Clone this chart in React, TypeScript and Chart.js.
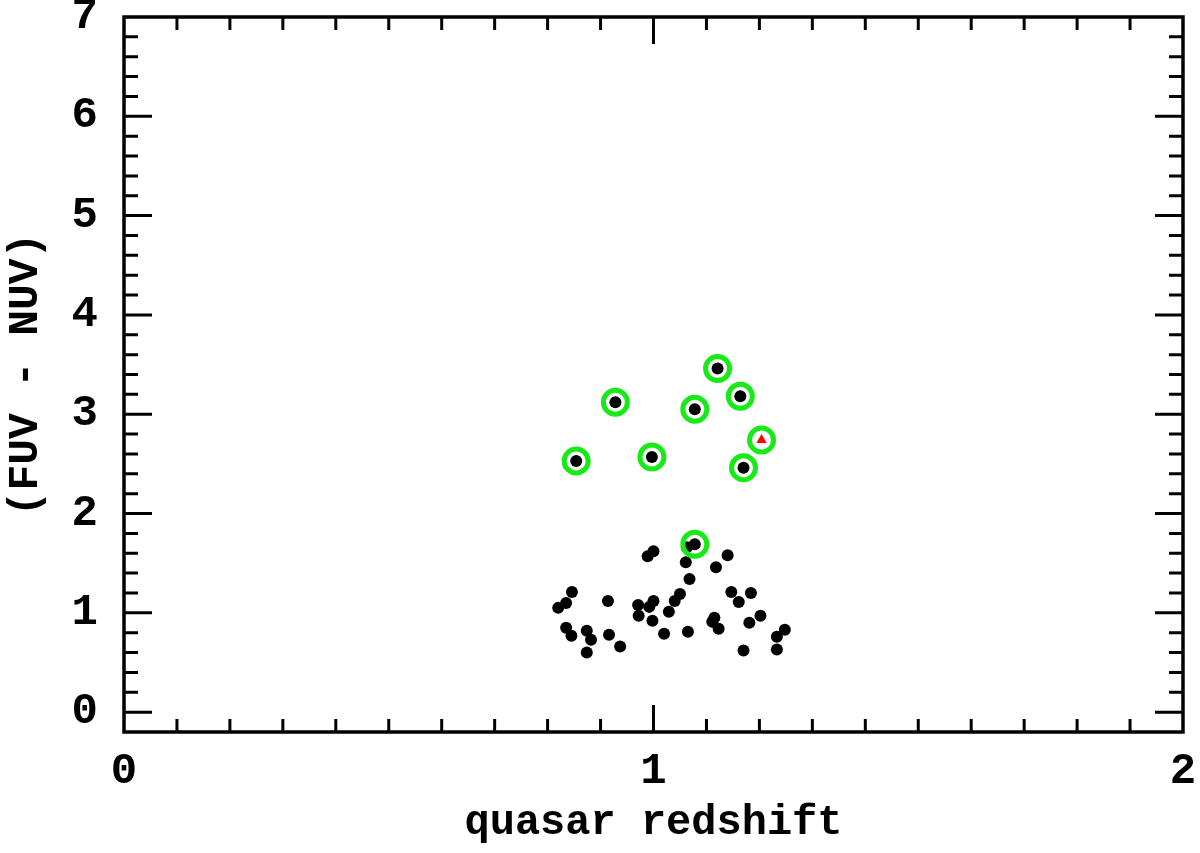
import React, { useEffect, useRef } from "react";
import { Chart, registerables } from "chart.js";

Chart.register(...registerables);

// Plain black points (quasar redshift, FUV - NUV)
const BLACK_X = [
  1.063, 1.0, 0.989, 1.14, 1.061, 1.118, 1.068, 0.846, 1.147, 1.184,
  0.835, 0.82, 0.914, 0.971, 1.0, 0.992, 1.05, 1.04, 1.161, 0.972,
  1.029, 0.998, 1.202, 1.115, 1.111, 1.181, 1.123, 0.835, 0.845, 0.874,
  0.882, 0.916, 0.937, 0.874, 1.02, 1.065, 1.248, 1.233, 1.17, 1.233,
];
const BLACK_Y = [
  1.66, 1.62, 1.57, 1.58, 1.51, 1.46, 1.34, 1.21, 1.21, 1.2,
  1.1, 1.05, 1.12, 1.08, 1.12, 1.06, 1.19, 1.12, 1.11, 0.97,
  1.01, 0.92, 0.97, 0.95, 0.91, 0.9, 0.84, 0.85, 0.77, 0.82,
  0.73, 0.78, 0.66, 0.6, 0.79, 0.81, 0.83, 0.76, 0.62, 0.63,
];

// Circled (green ring) objects with black dot centres
const RING_DOT_X = [0.854, 0.928, 0.997, 1.078, 1.121, 1.164, 1.17, 1.078];
const RING_DOT_Y = [2.53, 3.12, 2.57, 3.05, 3.46, 3.18, 2.46, 1.69];

// Circled object with red triangle centre
const TRI_X = [1.204];
const TRI_Y = [2.74];

const X_TICKS = [0, 1, 2];
const Y_TICKS = [0, 1, 2, 3, 4, 5, 6, 7];

const GREEN = "#17ea17";
const FONT = "'Liberation Mono', 'DejaVu Sans Mono', monospace";

const pts = (xs: number[], ys: number[]) => xs.map((x, i) => ({ x, y: ys[i] }));

const framePlugin = {
  id: "frameTicks",
  afterDraw(chart: any) {
    const { ctx, chartArea } = chart;
    const xs = chart.scales.x;
    const ys = chart.scales.y;
    const { left, right, top, bottom } = chartArea;
    ctx.save();
    ctx.strokeStyle = "#000";
    ctx.lineWidth = 3;
    ctx.lineCap = "butt";
    ctx.beginPath();
    for (let k = 1; k < 20; k++) {
      const v = k / 10;
      const px = xs.getPixelForValue(v);
      const len = k % 10 === 0 ? 27 : 13;
      ctx.moveTo(px, bottom);
      ctx.lineTo(px, bottom - len);
      ctx.moveTo(px, top);
      ctx.lineTo(px, top + len);
    }
    for (let k = 0; k < 35; k++) {
      const v = k / 5;
      const py = ys.getPixelForValue(v);
      const len = k % 5 === 0 ? 28 : 14;
      ctx.moveTo(left, py);
      ctx.lineTo(left + len, py);
      ctx.moveTo(right, py);
      ctx.lineTo(right - len, py);
    }
    ctx.stroke();
    ctx.lineWidth = 3.5;
    ctx.strokeRect(left, top, right - left, bottom - top);
    ctx.restore();
  },
};

export default function App() {
  const ref = useRef<HTMLCanvasElement | null>(null);

  useEffect(() => {
    if (!ref.current) return;
    const chart = new Chart(ref.current, {
      type: "scatter",
      data: {
        datasets: [
          {
            data: pts(BLACK_X, BLACK_Y),
            pointRadius: 6,
            pointBackgroundColor: "#000",
            pointBorderWidth: 0,
            order: 3,
          },
          {
            data: pts(RING_DOT_X, RING_DOT_Y),
            pointRadius: 6,
            pointBackgroundColor: "#000",
            pointBorderWidth: 0,
            order: 2,
          },
          {
            data: pts([...RING_DOT_X, ...TRI_X], [...RING_DOT_Y, ...TRI_Y]),
            pointRadius: 12,
            pointBackgroundColor: "rgba(0,0,0,0)",
            pointBorderColor: GREEN,
            pointBorderWidth: 5,
            order: 1,
          },
          {
            data: pts(TRI_X, TRI_Y),
            pointStyle: "triangle",
            pointRadius: 6,
            pointBackgroundColor: "#ff0000",
            pointBorderColor: "#ff0000",
            pointBorderWidth: 0,
            order: 0,
          },
        ],
      },
      options: {
        animation: false,
        responsive: false,
        devicePixelRatio: 1,
        layout: { padding: { top: 15, right: 12, left: 0, bottom: 0 } },
        plugins: {
          legend: { display: false },
          tooltip: { enabled: false },
        },
        scales: {
          x: {
            type: "linear",
            min: 0,
            max: 2,
            grid: { display: false, drawTicks: false },
            border: { display: false },
            afterBuildTicks: (s: any) => {
              s.ticks = X_TICKS.map((v) => ({ value: v }));
            },
            afterFit: (s: any) => {
              s.height = 121;
              s.paddingLeft = 0;
              s.paddingRight = 0;
            },
            ticks: {
              color: "#000",
              padding: 14,
              maxRotation: 0,
              font: { family: FONT, weight: "bold", size: 44 },
              callback: (v: any) => String(v),
            },
            title: {
              display: true,
              text: "quasar redshift",
              color: "#000",
              padding: { top: 0, bottom: 4 },
              font: { family: FONT, weight: "bold", size: 42 },
            },
          },
          y: {
            type: "linear",
            min: -0.2,
            max: 7,
            grid: { display: false, drawTicks: false },
            border: { display: false },
            afterBuildTicks: (s: any) => {
              s.ticks = Y_TICKS.map((v) => ({ value: v }));
            },
            afterFit: (s: any) => {
              s.width = 124;
              s.paddingTop = 0;
              s.paddingBottom = 0;
            },
            ticks: {
              color: "#000",
              padding: 26,
              font: { family: FONT, weight: "bold", size: 44 },
              callback: (v: any) => String(v),
            },
            title: {
              display: true,
              text: "(FUV - NUV)",
              color: "#000",
              padding: { top: 0, bottom: 0 },
              font: { family: FONT, weight: "bold", size: 43 },
            },
          },
        },
      },
      plugins: [framePlugin],
    });
    return () => chart.destroy();
  }, []);

  return (
    <div style={{ position: "fixed", left: 0, top: 0, width: 1200, height: 853, background: "#fff" }}>
      <canvas ref={ref} width={1200} height={853} style={{ display: "block" }} />
    </div>
  );
}
